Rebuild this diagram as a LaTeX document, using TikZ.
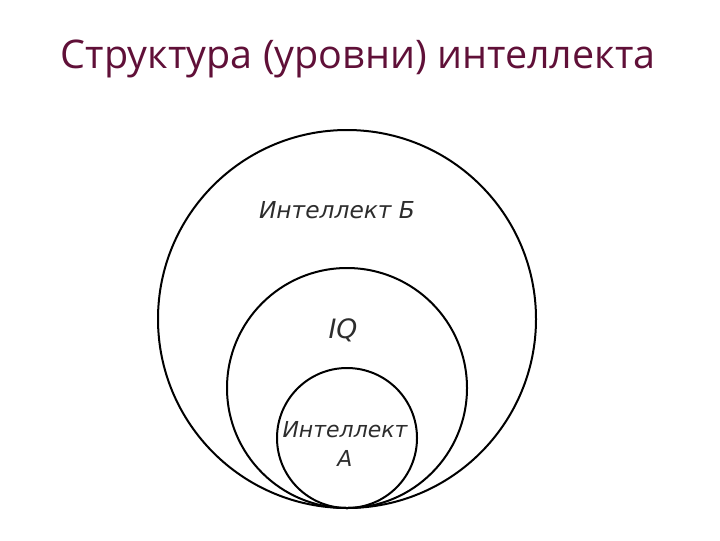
\documentclass[tikz,border=0pt]{standalone}
\usepackage{fontspec}
\setmainfont{Open Sans}
\newfontfamily\labelfont{DejaVu Sans}
\usepackage{xcolor}
\usetikzlibrary{positioning}
\definecolor{titlemaroon}{RGB}{96,16,56}
\definecolor{scangray}{RGB}{45,45,45}

\begin{document}
\begin{tikzpicture}[
    x=0.75pt, y=-0.75pt,
    ring/.style={circle, draw=black, line width=1.5pt, inner sep=0pt},
    lbl/.style={font=\labelfont\itshape\fontsize{16.5}{19}\selectfont, text=scangray, inner sep=0pt, align=center},
    headline/.style={font=\fontsize{29.6}{34}\selectfont, text=titlemaroon, inner sep=0pt, anchor=base}
]
\useasboundingbox (0,0) rectangle (720,540);

% Title
\node[headline] (title) at (358,68) {Структура (уровни) интеллекта};

% Levels
\node[ring, minimum size=283.5pt] (outerlevel) at (347,319) {};
\node[ring, minimum size=180pt] (iqlevel) at (347,388) {};
\node[ring, minimum size=105pt] (innerlevel) at (347,438) {};

% Labels
\node[lbl, font=\labelfont\itshape\fontsize{17.5}{20}\selectfont] (labelB) at (337,210) {Интеллект Б};
\node[lbl, font=\labelfont\itshape\fontsize{20}{24}\selectfont] (labelIQ) at (343,330) {IQ};
\node[lbl] (labelA) at (345,430) {Интеллект};
\node[lbl, below=9pt of labelA] (letterA) {А};

\end{tikzpicture}
\end{document}
